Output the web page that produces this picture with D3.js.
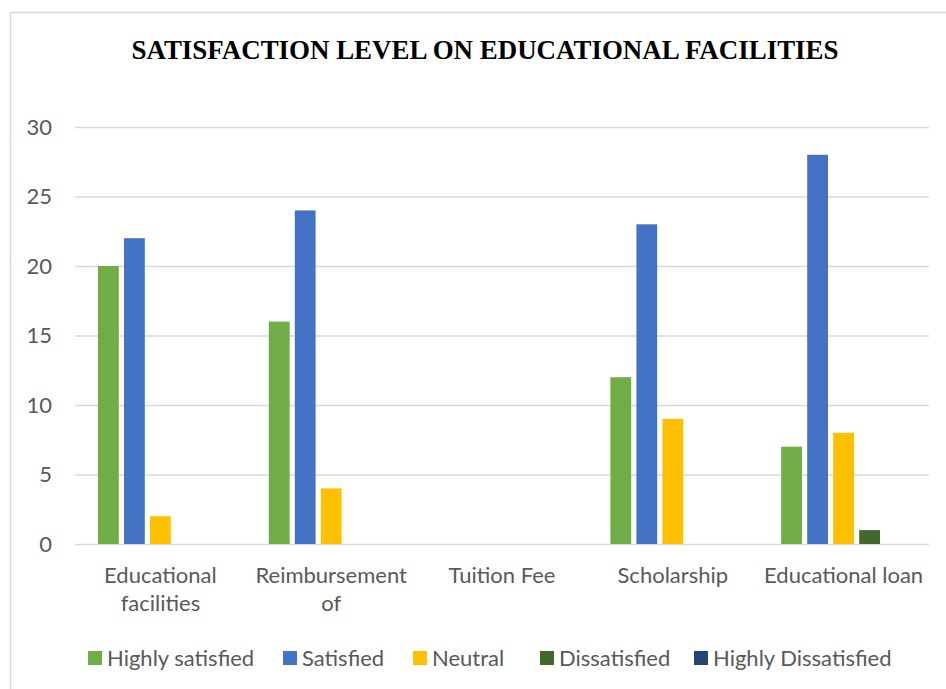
<!DOCTYPE html>
<html>
<head>
<meta charset="utf-8">
<script src="https://cdn.jsdelivr.net/npm/d3@7"></script>
<style>
  body { margin: 0; background: #fff; }
  text { font-family: Lato, "Noto Sans", sans-serif; }
</style>
</head>
<body>
<svg width="946" height="689"></svg>
<script>
var categories = ["Educational facilities", "Reimbursement of", "Tuition Fee", "Scholarship", "Educational loan"];
var seriesNames = ["Highly satisfied", "Satisfied", "Neutral", "Dissatisfied", "Highly Dissatisfied"];
var seriesColors = ["#70ad47", "#4472c4", "#ffc000", "#43682b", "#264478"];
// values per series, in category order
var highlySatisfied = [20, 16, 0, 12, 7];
var satisfied = [22, 24, 0, 23, 28];
var neutral = [2, 4, 0, 9, 8];
var dissatisfied = [0, 0, 0, 0, 1];
var highlyDissatisfied = [0, 0, 0, 0, 0];
var yTicks = [0, 5, 10, 15, 20, 25, 30];

var seriesValues = [highlySatisfied, satisfied, neutral, dissatisfied, highlyDissatisfied];

var svg = d3.select("svg");

// chart border
svg.append("rect")
    .attr("x", 10.5).attr("y", 12.5)
    .attr("width", 960).attr("height", 700)
    .attr("fill", "none").attr("stroke", "#d9d9d9").attr("stroke-width", 1.5);

svg.append("text")
    .attr("x", 485).attr("y", 59)
    .attr("text-anchor", "middle")
    .attr("textLength", 707).attr("lengthAdjust", "spacingAndGlyphs")
    .style("font-family", "'Liberation Serif', 'Times New Roman', serif")
    .style("font-weight", "bold").style("font-size", "27px")
    .attr("fill", "#000")
    .text("SATISFACTION LEVEL ON EDUCATIONAL FACILITIES");

var x = d3.scaleBand().domain(categories).range([75, 929]);
var xi = d3.scaleBand().domain(seriesNames).range([23, x.bandwidth() - 23]).paddingInner(0.2);
var y = d3.scaleLinear().domain([0, 30]).range([544, 127]);

// gridlines
svg.append("g").selectAll("line")
    .data(yTicks)
    .enter().append("line")
    .attr("x1", 75).attr("x2", 929)
    .attr("y1", function (d) { return y(d) + 0.5; })
    .attr("y2", function (d) { return y(d) + 0.5; })
    .attr("stroke", "#d9d9d9").attr("stroke-width", 1.5);

// y axis labels
var yAxis = d3.axisLeft(y).tickValues(yTicks).tickSize(0).tickPadding(0);
svg.append("g")
    .attr("transform", "translate(52,0)")
    .call(yAxis)
    .call(function (g) { g.select(".domain").remove(); })
    .selectAll("text")
    .style("font-family", "Lato, sans-serif")
    .style("font-size", "22px")
    .attr("fill", "#595959");

// bars
var groups = svg.append("g").selectAll("g")
    .data(seriesNames)
    .enter().append("g")
    .attr("fill", function (d, i) { return seriesColors[i]; });

groups.selectAll("rect")
    .data(function (s, i) {
        return categories.map(function (c, j) { return { cat: c, series: s, value: seriesValues[i][j] }; });
    })
    .enter().append("rect")
    .attr("x", function (d) { return x(d.cat) + xi(d.series); })
    .attr("width", xi.bandwidth())
    .attr("y", function (d) { return y(d.value); })
    .attr("height", function (d) { return y(0) - y(d.value); });

// x axis labels
var xAxis = d3.axisBottom(x).tickSize(0).tickPadding(0);
var xg = svg.append("g")
    .attr("transform", "translate(0,567)")
    .call(xAxis)
    .call(function (g) { g.select(".domain").remove(); });
xg.selectAll("text")
    .style("font-family", "Lato, sans-serif")
    .style("font-size", "22px")
    .attr("fill", "#595959")
    .each(function () {
        var t = d3.select(this);
        var words = t.text().split(" ");
        t.text(null);
        var line = [];
        var tspan = t.append("tspan").attr("x", 0).attr("dy", "0.71em");
        words.forEach(function (w) {
            line.push(w);
            tspan.text(line.join(" "));
            if (tspan.node().getComputedTextLength() > 168 && line.length > 1) {
                line.pop();
                tspan.text(line.join(" "));
                line = [w];
                tspan = t.append("tspan").attr("x", 0).attr("dy", "28px").text(w);
            }
        });
    });

// legend
var legendX = [88, 283, 413, 540, 694];
var legend = svg.append("g").selectAll("g")
    .data(seriesNames)
    .enter().append("g")
    .attr("transform", function (d, i) { return "translate(" + legendX[i] + ",651)"; });
legend.append("rect")
    .attr("width", 14).attr("height", 14)
    .attr("fill", function (d, i) { return seriesColors[i]; });
legend.append("text")
    .attr("x", 19).attr("y", 14.5)
    .style("font-size", "22px")
    .attr("fill", "#595959")
    .text(function (d) { return d; });
</script>
</body>
</html>
